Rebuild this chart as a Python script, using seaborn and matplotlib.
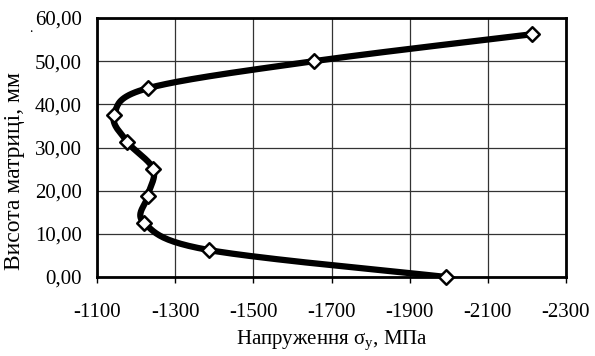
import numpy as np
import pandas as pd
import matplotlib
matplotlib.use("Agg")
import matplotlib.pyplot as plt
import seaborn as sns

# values
stress = [-1994, -1386, -1221, -1230, -1244, -1178, -1144, -1231, -1655, -2214]
height = [0.0, 6.25, 12.5, 18.75, 25.0, 31.25, 37.5, 43.75, 50.0, 56.25]
x_ticks = [-1100, -1300, -1500, -1700, -1900, -2100, -2300]
y_ticks = [0, 10, 20, 30, 40, 50, 60]

df = pd.DataFrame({"stress": stress, "height": height})

sns.set_theme(style="white")
plt.rcParams['font.family'] = ['Liberation Serif', 'DejaVu Serif']
plt.rcParams['mathtext.fontset'] = 'custom'
plt.rcParams['mathtext.rm'] = 'Liberation Serif'

fig = plt.figure(figsize=(5.95, 3.56), dpi=100)
ax = fig.add_axes([97 / 595, 1 - 277 / 356, (566 - 97) / 595, (277 - 18) / 356])
ax.set_xlim(-1100, -2300)
ax.set_ylim(0, 60)

# Excel-style smoothed line: Bezier through points, built in screen space
W, H = 566 - 97, 277 - 18
px = (np.array(stress) + 1100) / -1200 * W
py = np.array(height) / 60 * H
pts = np.column_stack([px, py])
curve = []
n = len(pts)
for i in range(n - 1):
    p0 = pts[max(i - 1, 0)]
    p1 = pts[i]
    p2 = pts[i + 1]
    p3 = pts[min(i + 2, n - 1)]
    c1 = p1 + (p2 - p0) / 6
    c2 = p2 - (p3 - p1) / 6
    t = np.linspace(0, 1, 40)[:, None]
    seg = (1 - t) ** 3 * p1 + 3 * (1 - t) ** 2 * t * c1 + 3 * (1 - t) * t ** 2 * c2 + t ** 3 * p2
    curve.append(seg if i == 0 else seg[1:])
curve = np.vstack(curve)
smooth = pd.DataFrame({"stress": curve[:, 0] / W * -1200 - 1100,
                       "height": curve[:, 1] / H * 60})

sns.lineplot(data=smooth, x="stress", y="height", sort=False, color="black",
             linewidth=4.5, ax=ax, zorder=3)
sns.scatterplot(data=df, x="stress", y="height", marker="D", s=55,
                facecolor="white", edgecolor="black", linewidth=1.8, ax=ax,
                zorder=4, clip_on=False)

ax.set_xticks(x_ticks)
ax.set_yticks(y_ticks)
ax.set_xticklabels([str(v) for v in x_ticks])
ax.set_yticklabels([f"{v:.2f}".replace(".", ",") for v in y_ticks])
ax.grid(True, color="#333333", linewidth=0.9)
for s in ax.spines.values():
    s.set_color("black")
    s.set_linewidth(2)
ax.tick_params(axis="x", length=4, width=1, color="black", direction="out",
               bottom=True, labelsize=15, pad=15, colors="black")
ax.tick_params(axis="y", length=0, labelsize=15, pad=11, colors="black")

ax.set_xlabel(r"Напруження σ$_\mathregular{y}$, МПа", fontsize=15, labelpad=5, color="black")
ax.set_ylabel("Висота матриці, мм", fontsize=17, color="black")
ax.yaxis.set_label_coords((25 - 97) / W, (277 - 171) / H)
fig.text(29 / 595, 1 - 32 / 356, ".", fontsize=10, color="black")

fig.savefig("out.png", dpi=100)
